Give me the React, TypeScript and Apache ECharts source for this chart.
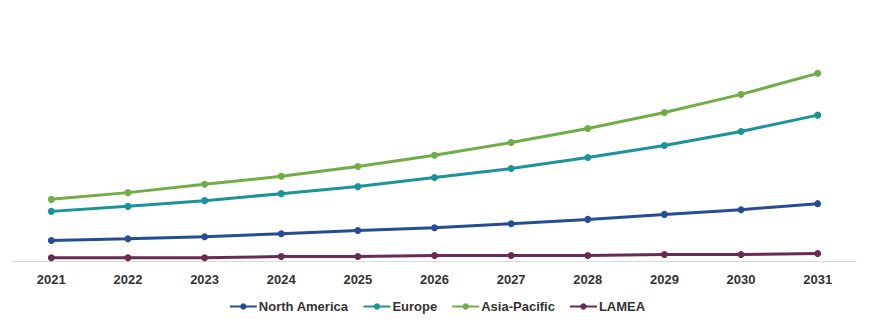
import React, { useEffect, useRef } from "react";
import * as echarts from "echarts";

const years = ["2021", "2022", "2023", "2024", "2025", "2026", "2027", "2028", "2029", "2030", "2031"];
const northAmerica = [20.5, 22.2, 24.2, 27.2, 30.5, 33.2, 37.2, 41.5, 46.5, 51.2, 57.2];
const europe = [49.5, 54.5, 60.2, 67.2, 74.2, 83.2, 92.2, 103.2, 115.2, 129.2, 145.5];
const asiaPacific = [61.5, 68.2, 76.5, 84.5, 94.2, 105.5, 118.2, 132.2, 148.2, 166.2, 187.2];
const lamea = [3.2, 3.2, 3.2, 4.5, 4.5, 5.5, 5.5, 5.5, 6.5, 6.5, 7.5];

const seriesNames = ["North America", "Europe", "Asia-Pacific", "LAMEA"];
const seriesData = [northAmerica, europe, asiaPacific, lamea];
const colors = ["#234e93", "#1a939b", "#70ad47", "#6b2a4f"];

export default function App() {
  const ref = useRef<HTMLDivElement>(null);
  useEffect(() => {
    if (!ref.current) return;
    const chart = echarts.init(ref.current, null, { renderer: "svg" });
    chart.setOption({
      animation: false,
      color: colors,
      grid: { left: 13, right: 18, top: 60.5, bottom: 63, containLabel: false },
      legend: {
        data: seriesNames,
        left: "center",
        top: 295,
        itemWidth: 27,
        itemHeight: 8,
        itemGap: 14,
        textStyle: {
          fontFamily: "Liberation Sans, Arial, sans-serif",
          fontSize: 13,
          fontWeight: "bold",
          color: "#333333",
          padding: [0, 0, 0, -3],
        },
      },
      xAxis: {
        type: "category",
        data: years,
        boundaryGap: true,
        axisLine: { show: true, lineStyle: { color: "#d9d9d9", width: 1 } },
        axisTick: { show: false },
        axisLabel: {
          margin: 12,
          fontFamily: "Liberation Sans, Arial, sans-serif",
          fontSize: 13,
          fontWeight: "bold",
          color: "#333333",
        },
      },
      yAxis: {
        type: "value",
        min: 0,
        max: 200,
        show: false,
        splitLine: { show: false },
      },
      series: seriesNames.map((name, i) => ({
        name,
        type: "line",
        data: seriesData[i],
        symbol: "circle",
        symbolSize: 7,
        lineStyle: { width: 3, color: colors[i] },
        itemStyle: { color: colors[i] },
        smooth: false,
      })),
    });
    return () => chart.dispose();
  }, []);
  return (
    <div
      ref={ref}
      style={{ position: "fixed", left: 0, top: 0, width: 874, height: 324, background: "#fff" }}
    />
  );
}
